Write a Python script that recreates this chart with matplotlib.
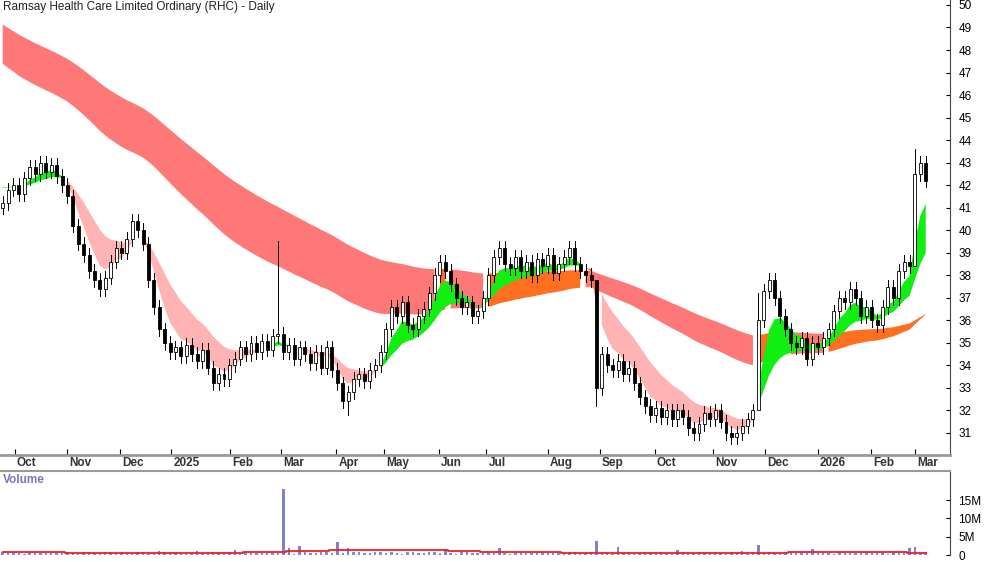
import matplotlib
matplotlib.use('Agg')
import matplotlib.pyplot as plt
import numpy as np

plt.rcParams['font.family'] = ['Liberation Sans', 'DejaVu Sans']

# closing prices, one value per two trading days
closes = [41.2, 41.8, 42.0, 41.6,
          42.3, 42.8, 42.5, 43.0, 42.6, 42.9,
          42.4, 42.0, 41.5, 40.2, 39.4, 38.9,
          38.2, 37.8, 37.4, 37.9, 38.6, 39.2, 39.0, 39.6,
          40.4, 40.0, 39.4, 37.8, 36.6, 35.6, 35.0,
          34.6, 34.8, 34.4, 34.9, 34.5, 34.2, 34.7,
          33.9, 33.2, 33.6, 33.4, 34.0, 34.3, 34.8, 34.5, 35.0,
          34.6, 35.1, 34.7, 35.3, 35.4, 34.6, 34.9, 34.3, 34.8, 34.5,
          34.1, 34.6, 33.9, 34.8, 33.8, 33.2, 32.4, 32.8, 33.4,
          33.6, 33.3, 33.8, 34.0, 34.6, 35.6, 36.6, 36.2, 36.8,
          35.8, 35.6, 36.2, 36.5, 37.2, 38.0, 38.6, 38.2,
          37.6, 37.0, 36.6, 36.8, 36.2, 36.4, 37.0,
          38.0, 38.8, 39.2, 38.5, 38.3, 38.8, 38.2, 38.6, 38.0, 38.7,
          38.4, 38.9, 38.1, 38.5, 38.8, 39.2, 38.5, 38.2, 38.0, 37.8,
          33.0, 34.5, 34.0, 33.8, 34.2, 33.6, 33.9,
          33.2, 32.6, 32.2, 31.8, 32.1, 31.7, 32.0, 31.6, 32.0, 31.7,
          31.2, 31.0, 31.4, 31.9, 31.6, 32.0, 31.5, 31.0, 30.8,
          31.0, 31.3, 31.6, 32.0, 36.0, 37.3, 37.8, 37.0,
          36.2, 35.6, 35.0, 34.8, 35.2, 34.3, 35.0,
          34.8, 35.2, 35.6, 36.4, 37.0, 36.8, 37.4,
          37.0, 36.2, 36.6, 36.0, 35.8, 36.6, 37.5,
          37.0, 38.2, 38.6, 38.4, 42.5, 43.0, 42.2]
first_open = 41.0
# unusual highs / lows
spike_high = {51: 39.5, 110: 36.6, 169: 43.6, 140: 37.2}
spike_low = {64: 31.8, 169: 40.6, 140: 33.2, 110: 32.2}

# volume in millions
volume = [0.7, 0.5, 0.8, 0.6, 0.4, 0.7, 0.9, 0.5, 0.6, 0.8] * 17 + [0.6, 0.9]
vol_spikes = {29: 1.0, 36: 1.1, 43: 1.3, 52: 18.0, 53: 2.0, 55: 2.5, 62: 3.6, 64: 2.0,
              82: 1.6, 92: 2.0, 110: 3.8, 114: 2.3, 125: 1.5, 137: 1.0, 140: 2.7,
              150: 1.6, 165: 1.0, 168: 1.8, 169: 2.2}
avg_vol = [0.9] * 12 + [0.6] * 33 + [0.8] * 8 + [1.1] * 8 + [1.4] * 22 + [1.1] * 6 + [0.8] * 15 + [0.6] * 42 + [0.8] * 4 + [0.9] * 18 + [0.6] * 4

month_labels = ['Oct', 'Nov', 'Dec', '2025', 'Feb', 'Mar', 'Apr', 'May', 'Jun', 'Jul',
                'Aug', 'Sep', 'Oct', 'Nov', 'Dec', '2026', 'Feb', 'Mar']
month_pos = [2.2, 12, 21.8, 31.2, 42.2, 51.6, 61.8, 70.6, 80.8, 89.6,
             101, 110.6, 120.8, 131.6, 141.2, 151, 160.8, 169]


def ema(vals, span, seed):
    a = 2.0 / (span + 1)
    out = []
    e = seed
    for v in vals:
        e = e + a * (v - e)
        out.append(e)
    return np.array(out)


c = np.array(closes)
n = len(c)
idx = np.arange(n)
o = np.concatenate([[first_open], c[:-1]])
hi = np.maximum(o, c) + 0.3
lo = np.minimum(o, c) - 0.3
for k, v in spike_high.items():
    hi[k] = v
for k, v in spike_low.items():
    lo[k] = v

s_fast = ema(c, 5, 42.3)
s_slow = ema(c, 14, 42.0)
l_up = ema(c, 95, 49.3)
l_lo = ema(c, 60, 47.6)

fig = plt.figure(figsize=(10, 5.62), dpi=100)
ax = fig.add_axes([0, 1 - 455 / 562, 0.95, 455 / 562])
axv = fig.add_axes([0, 7 / 562, 0.95, 84 / 562])

# long band
l_top = np.maximum(l_up, l_lo)
l_bot = np.minimum(l_up, l_lo)
l_fall = np.concatenate([[True], np.diff(l_top) < -0.004])
ax.fill_between(idx, l_bot, l_top, where=l_fall, color='#ff7878', lw=0)
ax.fill_between(idx, l_bot, l_top, where=~l_fall, color='#ff6f20', lw=0)

# short band
s_top = np.maximum(s_fast, s_slow)
s_bot = np.minimum(s_fast, s_slow)
green = s_fast >= s_slow
pink = ~green & (s_top < l_bot)
orange = ~pink & ~green
ax.fill_between(idx, s_bot, s_top, where=pink, color='#ffb3b3', lw=0)
ax.fill_between(idx, s_bot, s_top, where=orange, color='#ff6a1a', lw=0)
ax.fill_between(idx, s_bot, s_top, where=green, color='#11ee11', lw=0)

# candles
w = 0.55
for i in range(n):
    ax.plot([i, i], [lo[i], hi[i]], color='black', lw=0.7, zorder=3)
    up = c[i] >= o[i]
    body = max(abs(c[i] - o[i]), 0.05)
    ax.add_patch(plt.Rectangle((i - w / 2, min(o[i], c[i])), w, body,
                               facecolor='white' if up else 'black',
                               edgecolor='black', lw=0.6, zorder=4))

ax.set_xlim(-0.5, 175.5)
ax.set_ylim(30.02, 50.22)
ax.yaxis.tick_right()
ax.set_yticks(range(31, 51))
ax.tick_params(axis='y', labelsize=8.5, length=3, direction='in', pad=6)
ax.set_xticks(month_pos)
ax.set_xticklabels([])
ax.tick_params(axis='x', length=4, direction='in')
for p, lab in zip(month_pos, month_labels):
    ax.text(p + 0.4, 30.02 - 0.1, lab, fontsize=8.5, ha='left', va='top',
            clip_on=False, fontweight='bold', color='#333333')
for s in ['top', 'left']:
    ax.spines[s].set_visible(False)
ax.spines['bottom'].set_color('#999999')
ax.spines['bottom'].set_linewidth(2)
ax.spines['right'].set_color('#444444')
ax.text(0.003, 0.997, 'Ramsay Health Care Limited Ordinary (RHC) - Daily', transform=ax.transAxes,
        fontsize=8.5, ha='left', va='top', color='#222222')

# volume
axv.bar(idx, volume[:n], width=0.45, color='#8888dd')
for k, v in vol_spikes.items():
    axv.bar(k, v, width=0.45, color='#8080cc')
axv.step(idx, avg_vol[:n], where='mid', color='#ee2020', lw=1.3)
axv.set_xlim(-0.5, 175.5)
axv.set_ylim(0, 23)
axv.yaxis.tick_right()
axv.set_yticks([0, 5, 10, 15])
axv.set_yticklabels(['0', '5M', '10M', '15M'])
axv.tick_params(axis='y', labelsize=8.5, length=3, direction='in', pad=6)
axv.set_xticks([])
for s in ['left', 'bottom']:
    axv.spines[s].set_visible(False)
axv.spines['top'].set_color('#999999')
axv.spines['top'].set_linewidth(1.5)
axv.spines['right'].set_color('#444444')
axv.text(0.003, 0.97, 'Volume', transform=axv.transAxes, fontsize=8.5, ha='left', va='top',
         color='#7777bb', fontweight='bold')

fig.savefig('out.png', dpi=100)
